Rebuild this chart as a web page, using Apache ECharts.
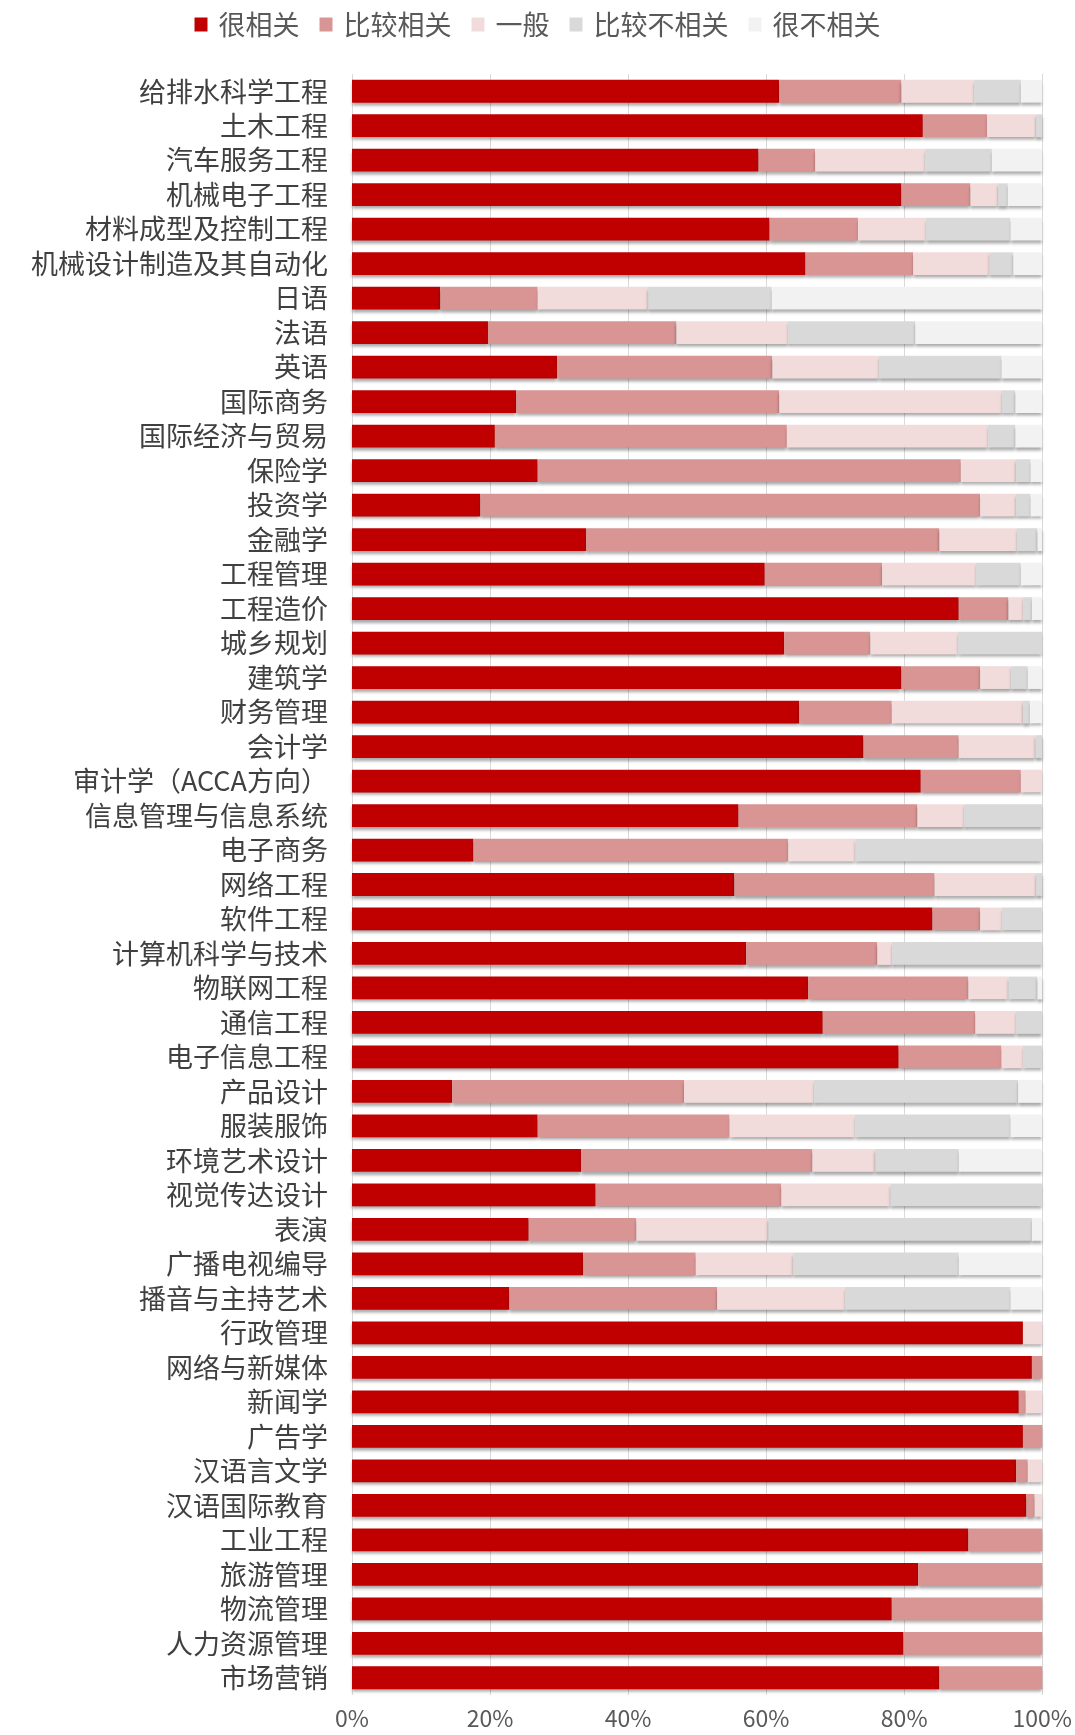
<!DOCTYPE html>
<html><head><meta charset="utf-8">
<script src="https://cdn.jsdelivr.net/npm/echarts@6/dist/echarts.min.js"></script>
<style>html,body{margin:0;padding:0;background:#fff}#c{width:1075px;height:1735px}</style>
</head><body><div id="c"></div>
<script>
const categories = ["给排水科学工程","土木工程","汽车服务工程","机械电子工程","材料成型及控制工程","机械设计制造及其自动化","日语","法语","英语","国际商务","国际经济与贸易","保险学","投资学","金融学","工程管理","工程造价","城乡规划","建筑学","财务管理","会计学","审计学（ACCA方向）","信息管理与信息系统","电子商务","网络工程","软件工程","计算机科学与技术","物联网工程","通信工程","电子信息工程","产品设计","服装服饰","环境艺术设计","视觉传达设计","表演","广播电视编导","播音与主持艺术","行政管理","网络与新媒体","新闻学","广告学","汉语言文学","汉语国际教育","工业工程","旅游管理","物流管理","人力资源管理","市场营销"];
const seriesNames = ["很相关","比较相关","一般","比较不相关","很不相关"];
const veryRelated = [61.9,82.7,58.9,79.6,60.5,65.7,12.8,19.7,29.7,23.8,20.7,26.9,18.6,33.9,59.8,87.9,62.6,79.6,64.8,74.1,82.4,56.0,17.6,55.4,84.1,57.1,66.1,68.2,79.2,14.5,26.9,33.2,35.3,25.6,33.5,22.8,97.2,98.5,96.6,97.2,96.2,97.7,89.3,82.0,78.2,79.9,85.1];
const related = [17.7,9.3,8.2,10.0,12.8,15.6,14.1,27.3,31.2,38.1,42.3,61.3,72.4,51.2,17.0,7.2,12.5,11.4,13.4,13.8,14.5,25.9,45.6,29.0,6.9,19.0,23.2,22.1,14.9,33.6,27.8,33.5,26.9,15.6,16.3,30.1,0,1.5,1.0,2.8,1.7,1.2,10.7,18.0,21.8,20.1,14.9];
const general = [10.5,7.1,15.9,4.0,9.8,11.0,16.0,16.1,15.4,32.2,29.1,8.0,5.2,11.2,13.6,2.1,12.7,4.4,19.0,11.1,3.1,6.7,9.7,14.7,3.1,2.1,5.8,5.9,3.1,18.8,18.1,9.1,15.8,19.1,14.1,18.5,2.8,0,2.4,0,2.1,1.1,0,0,0,0,0];
const notRelated = [6.8,0.9,9.7,1.4,12.3,3.5,17.9,18.5,17.8,2.0,4.0,2.1,2.1,3.0,6.5,1.3,12.2,2.5,1.0,1.0,0,11.4,27.1,0.9,5.9,21.8,4.2,3.8,2.8,29.6,22.6,12.1,22.0,38.2,24.0,24.0,0,0,0,0,0,0,0,0,0,0,0];
const veryNotRelated = [3.1,0,7.3,5.0,4.6,4.2,39.2,18.4,5.9,3.9,3.9,1.7,1.7,0.7,3.1,1.5,0,2.1,1.8,0,0,0,0,0,0,0,0.7,0,0,3.5,4.6,12.1,0,1.5,12.1,4.6,0,0,0,0,0,0,0,0,0,0,0];
const tickLabels = ["0%","20%","40%","60%","80%","100%"];

const colors = ["#C00000","#D99594","#F2DCDB","#D9D9D9","#F2F2F2"];
const allData = [veryRelated, related, general, notRelated, veryNotRelated];
const font = "'Noto Sans CJK SC', sans-serif";

const chart = echarts.init(document.getElementById('c'), null, {renderer:'canvas'});
chart.setOption({
  animation:false,
  color: colors,
  legend: {
    top: 6, left: 'center',
    icon: 'rect', itemWidth: 13, itemHeight: 14, itemGap: 20,
    textStyle: {fontFamily: font, fontSize: 27, color: '#595959', padding:[0,0,0,6]},
    data: seriesNames
  },
  grid: {left: 352, right: 22, top: 74, bottom: 40, containLabel: false},
  xAxis: {
    type: 'value', min: 0, max: 100, interval: 20,
    axisLine: {show:false}, axisTick: {show:false},
    splitLine: {show:true, lineStyle:{color:'#D9D9D9', width:1}},
    axisLabel: {fontFamily: font, fontSize: 23, color:'#595959', margin: 12,
      formatter: v => tickLabels[Math.round(v/20)]}
  },
  yAxis: {
    type: 'category', data: categories, inverse: true,
    axisLine: {show:false}, axisTick: {show:false},
    axisLabel: {fontFamily: font, fontSize: 27, color:'#404040', margin: 24, interval: 0, hideOverlap: false, lineHeight: 30}
  },
  series: seriesNames.map((n,i)=>({
    name: n, type: 'bar', stack: 'total', data: allData[i],
    barCategoryGap: '34%',
    itemStyle: {color: colors[i], shadowColor:'rgba(0,0,0,0.35)', shadowBlur:3, shadowOffsetY:3}
  }))
});
</script></body></html>
